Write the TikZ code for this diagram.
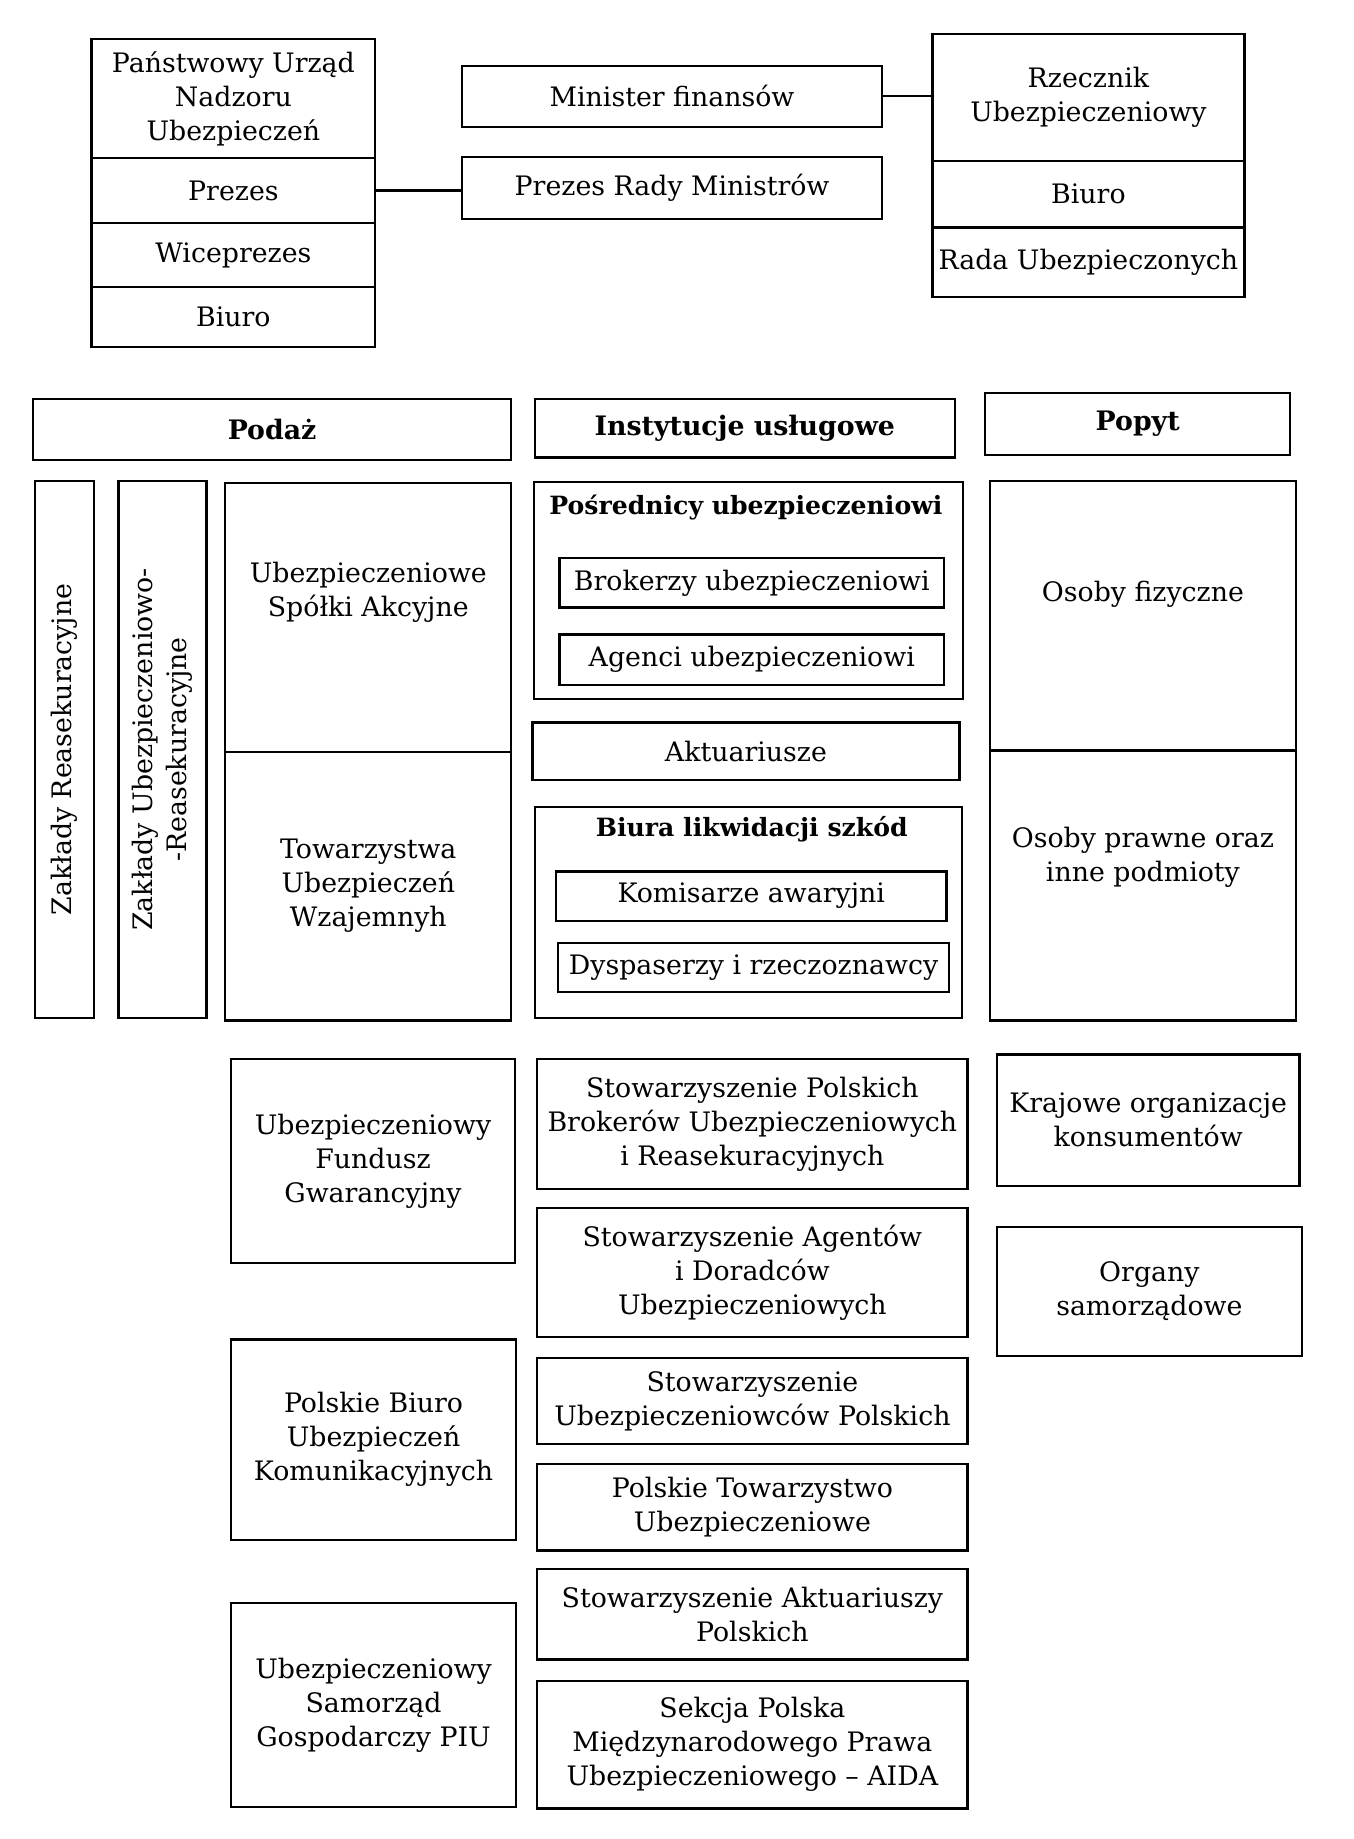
\documentclass[tikz,border=0pt]{standalone}
\usepackage{fontspec}
\setmainfont{DejaVu Serif}
\usetikzlibrary{positioning}

\begin{document}
\begin{tikzpicture}[
    box/.style={draw, line width=1.1pt, align=center, inner sep=1pt,
                font=\fontsize{13}{16.5}\selectfont},
    hdr/.style={box, font=\fontsize{13}{16.5}\selectfont\bfseries},
    txt/.style={align=center, inner sep=1pt, font=\fontsize{13}{16.5}\selectfont},
    ttl/.style={txt, font=\fontsize{12.2}{16.5}\selectfont\bfseries},
    sz/.style 2 args={minimum width=#1cm, minimum height=#2cm},
    link/.style={line width=1.1pt}
]
\useasboundingbox (0,0) rectangle (23.08,-31.36);

% --- nadzor i rzad ---
\node[box, sz={4.84}{2.04}] (punu)  at (3.98,-1.68) {Państwowy Urząd\\Nadzoru\\Ubezpieczeń};
\node[box, sz={4.84}{1.10}] (prezes) at (3.98,-3.25) {Prezes};
\node[box, sz={4.84}{1.10}] (wice)   at (3.98,-4.35) {Wiceprezes};
\node[box, sz={4.84}{1.02}] (biuro1) at (3.98,-5.41) {Biuro};

\node[box, sz={7.16}{1.04}] (minister) at (11.46,-1.64) {Minister finansów};
\node[box, sz={7.16}{1.06}] (premier)  at (11.46,-3.21) {Prezes Rady Ministrów};

\node[box, sz={5.32}{2.16}] (rzecznik) at (18.56,-1.66) {Rzecznik\\Ubezpieczeniowy};
\node[box, sz={5.32}{1.14}] (biuro2)   at (18.56,-3.31) {Biuro};
\node[box, sz={5.32}{1.18}] (rada)     at (18.56,-4.47) {Rada Ubezpieczonych};

\draw[link] (prezes.east) -- (prezes.east -| premier.west);
\draw[link] (minister.east) -- (minister.east -| rzecznik.west);

% --- naglowki ---
\node[hdr, sz={8.16}{1.04}] (podaz) at (4.64,-7.32) {Podaż};
\node[hdr, sz={7.16}{1.00}] (inst)  at (12.70,-7.30) {Instytucje usługowe};
\node[hdr, sz={5.20}{1.06}] (popyt) at (19.40,-7.23) {Popyt};

% --- podaz ---
\node[box, rotate=90, sz={9.16}{1.00}] (zr)  at (1.10,-12.78) {Zakłady Reasekuracyjne};
\node[box, rotate=90, sz={9.16}{1.50}] (zur) at (2.77,-12.78) {Zakłady Ubezpieczeniowo-\\-Reasekuracyjne};
\node[box, sz={4.88}{4.58}] (usa) at (6.28,-10.53) {};
\node[txt] (usa-t) at (6.28,-10.10) {Ubezpieczeniowe\\Spółki Akcyjne};
\node[box, sz={4.88}{4.58}] (tuw) at (6.28,-15.11) {Towarzystwa\\Ubezpieczeń\\Wzajemnyh};

\node[box, sz={4.84}{3.48}] (ufg)  at (6.36,-19.80) {Ubezpieczeniowy\\Fundusz\\Gwarancyjny};
\node[box, sz={4.86}{3.42}] (pbuk) at (6.37,-24.55) {Polskie Biuro\\Ubezpieczeń\\Komunikacyjnych};
\node[box, sz={4.86}{3.48}] (piu)  at (6.37,-29.08) {Ubezpieczeniowy\\Samorząd\\Gospodarczy PIU};

% --- instytucje uslugowe ---
\node[box, sz={7.32}{3.70}] (posr) at (12.76,-10.07) {};
\node[ttl] (posr-t) at (12.72,-8.66) {Pośrednicy ubezpieczeniowi};
\node[box, sz={6.56}{0.84}] (brok) at (12.82,-9.94)  {Brokerzy ubezpieczeniowi};
\node[box, sz={6.56}{0.86}] (agen) at (12.82,-11.25) {Agenci ubezpieczeniowi};
\node[box, sz={7.28}{0.98}] (akt)  at (12.72,-12.81) {Aktuariusze};
\node[box, sz={7.28}{3.60}] (likw) at (12.76,-15.56) {};
\node[ttl] (likw-t) at (12.82,-14.14) {Biura likwidacji szkód};
\node[box, sz={6.66}{0.84}] (kom)  at (12.81,-15.28) {Komisarze awaryjni};
\node[box, sz={6.66}{0.84}] (dysp) at (12.85,-16.50) {Dyspaserzy i rzeczoznawcy};

\node[box, sz={7.34}{2.22}] (spb) at (12.83,-19.17) {Stowarzyszenie Polskich\\Brokerów Ubezpieczeniowych\\i Reasekuracyjnych};
\node[box, sz={7.34}{2.20}] (sad) at (12.83,-21.70) {Stowarzyszenie Agentów\\i Doradców\\Ubezpieczeniowych};
\node[box, sz={7.34}{1.46}] (sup) at (12.83,-23.89) {Stowarzyszenie\\Ubezpieczeniowców Polskich};
\node[box, sz={7.34}{1.48}] (ptu) at (12.83,-25.70) {Polskie Towarzystwo\\Ubezpieczeniowe};
\node[box, sz={7.34}{1.54}] (sap) at (12.83,-27.53) {Stowarzyszenie Aktuariuszy\\Polskich};
\node[box, sz={7.34}{2.18}] (aida) at (12.83,-29.75) {Sekcja Polska\\Międzynarodowego Prawa\\Ubezpieczeniowego -- AIDA};

% --- popyt ---
\node[box, sz={5.22}{4.60}] (osf) at (19.49,-10.50) {};
\node[txt] (osf-t) at (19.49,-10.14) {Osoby fizyczne};
\node[box, sz={5.22}{4.60}] (osp) at (19.49,-15.10) {};
\node[txt] (osp-t) at (19.49,-14.62) {Osoby prawne oraz\\inne podmioty};

\node[box, sz={5.16}{2.24}] (kok) at (19.58,-19.10) {Krajowe organizacje\\konsumentów};
\node[box, sz={5.20}{2.20}] (sam) at (19.60,-22.02) {Organy\\samorządowe};

\end{tikzpicture}
\end{document}
